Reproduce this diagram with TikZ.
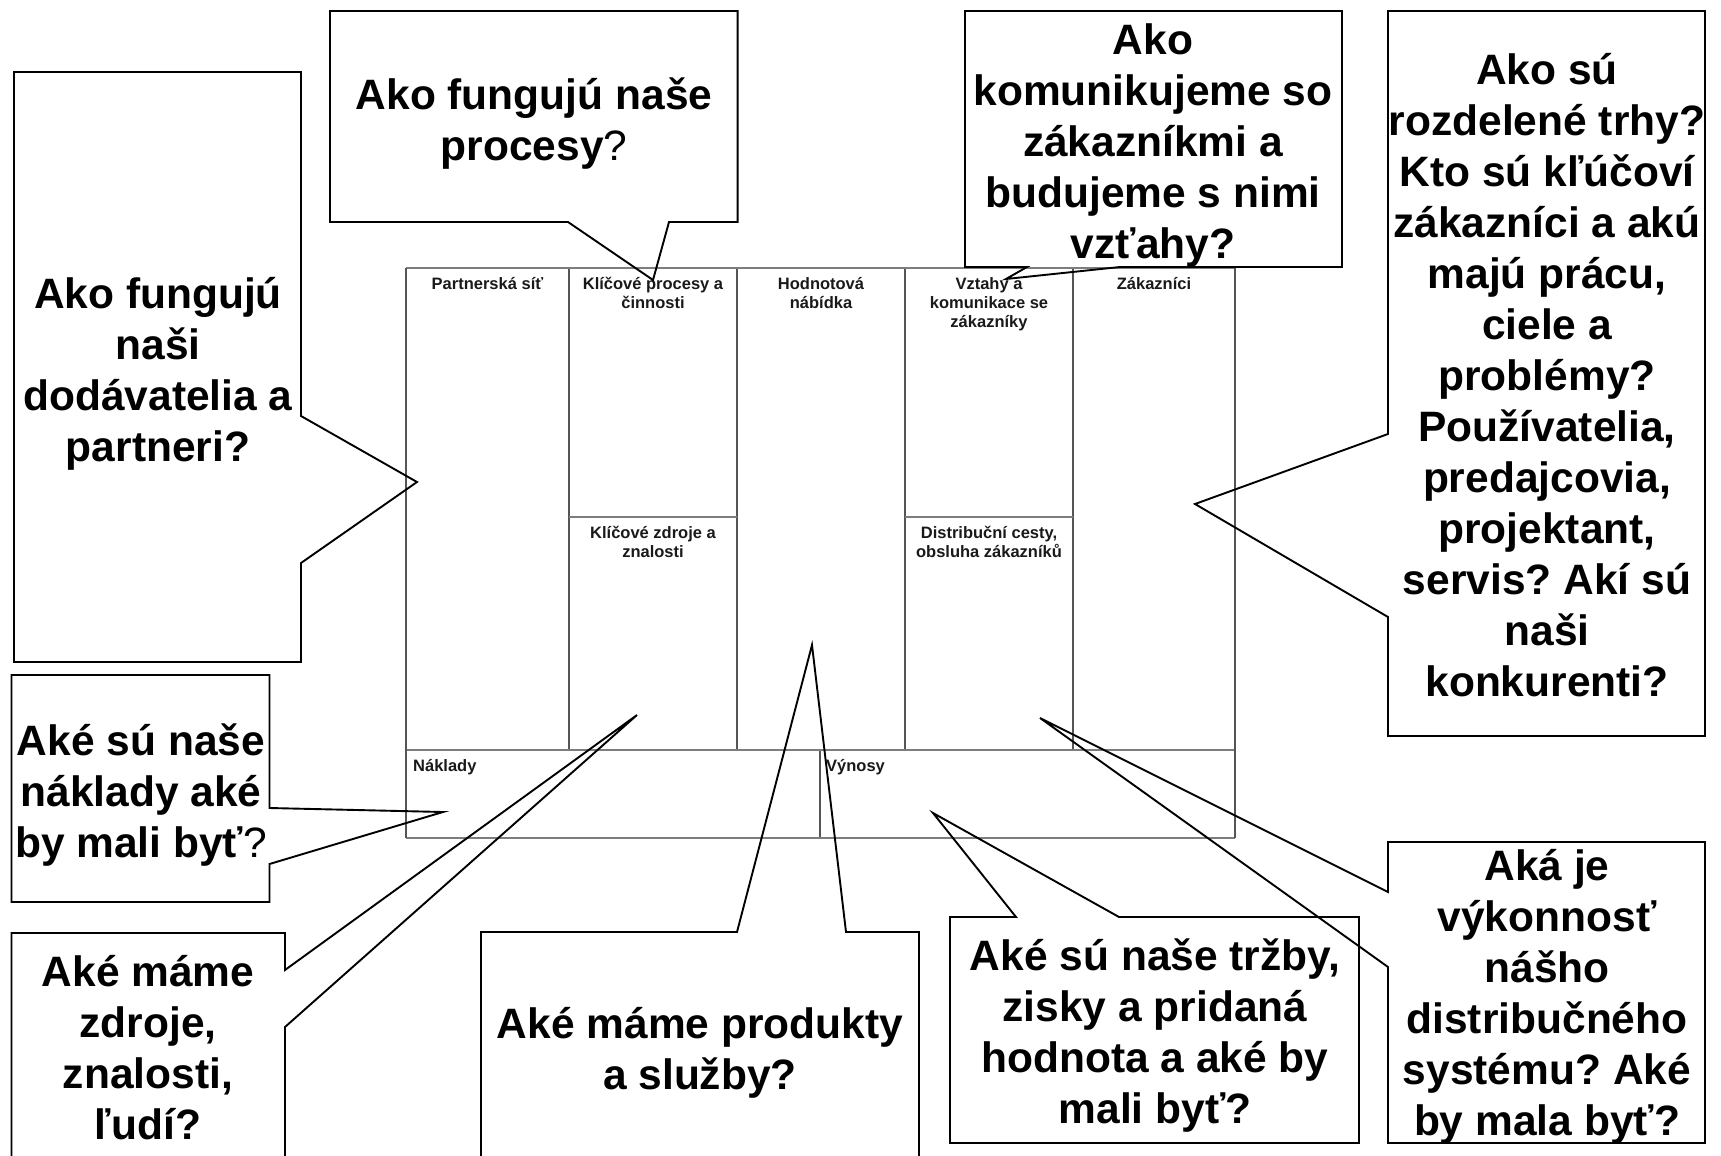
\documentclass[tikz,border=0pt]{standalone}
\usepackage{fontspec}
\setmainfont{Liberation Sans}
\frenchspacing
\definecolor{gridH}{RGB}{125,125,125}
\definecolor{gridV}{RGB}{85,85,85}
\tikzset{
  q/.style={font=\bfseries\fontsize{42.5}{51}\selectfont, align=center, inner sep=0pt},
  lab/.style={font=\bfseries\fontsize{16.5}{19}\selectfont, align=center, inner sep=0pt, anchor=north, text=black!90},
  labw/.style={font=\bfseries\fontsize{16.5}{19}\selectfont, inner sep=0pt, anchor=north west, text=black!90},
  gh/.style={draw=gridH, line width=2.2pt},
  gv/.style={draw=gridV, line width=1.3pt},
  callout/.style={draw=black, line width=1.9pt, line join=miter}
}
\begin{document}
\begin{tikzpicture}[x=1pt,y=-1pt]
\useasboundingbox (0,0) rectangle (1721,1156);
\clip (0,0) rectangle (1721,1156);
\fill[white] (0,0) rectangle (1721,1156);

% ---- canvas grid ----
\draw[gv] (569,268) -- (569,750);
\draw[gv] (737,268) -- (737,750);
\draw[gv] (905,268) -- (905,750);
\draw[gv] (1073,268) -- (1073,750);
\draw[gv] (820,750) -- (820,838);
\draw[gh] (569,517) -- (737,517);
\draw[gh] (905,517) -- (1073,517);
\draw[gh] (406,268) -- (1235,268);
\draw[gh] (406,750) -- (1235,750);
\draw[gh] (406,838) -- (1235,838);
\draw[gv] (406,268) -- (406,838);
\draw[gv] (1235,268) -- (1235,838);

% ---- canvas labels ----
\node[lab] (l1) at (487.5,277) {Partnerská síť};
\node[lab] (l2) at (653,277) {Klíčové procesy a\\činnosti};
\node[lab] (l3) at (821,277) {Hodnotová\\nábídka};
\node[lab] (l4) at (989,277) {Vztahy a\\komunikace se\\zákazníky};
\node[lab] (l5) at (1154,277) {Zákazníci};
\node[lab] (l6) at (653,526) {Klíčové zdroje a\\znalosti};
\node[lab] (l7) at (989,526) {Distribuční cesty,\\obsluha zákazníků};
\node[labw] (l8) at (413,759) {Náklady};
\node[labw] (l9) at (826,759) {Výnosy};

% ---- callouts ----
% processes
\draw[callout] (330,11) -- (737.6,11) -- (737.6,222) -- (669,222) -- (653,280) -- (568,222) -- (330,222) -- cycle;
% partners
\draw[callout] (14,72) -- (301,72) -- (301,416) -- (417,482) -- (301,563) -- (301,662) -- (14,662) -- cycle;
% communication
\draw[callout] (965,11) -- (1342,11) -- (1342,267) -- (1120,267) -- (1006,279) -- (1027,267) -- (965,267) -- cycle;
% customers
\draw[callout] (1388,11) -- (1705,11) -- (1705,736) -- (1388,736) -- (1388,617) -- (1195,504) -- (1388,434) -- cycle;
% costs
\draw[callout] (11.5,675) -- (269.5,675) -- (269.5,808) -- (443,812) -- (269.5,864) -- (269.5,902) -- (11.5,902) -- cycle;
% resources
\draw[callout] (11.5,933) -- (285,933) -- (285,970) -- (637,715) -- (285,1027) -- (285,1170) -- (11.5,1170) -- cycle;
% products
\draw[callout] (481,932) -- (737,932) -- (812,645) -- (846,932) -- (919,932) -- (919,1170) -- (481,1170) -- cycle;
% revenues
\draw[callout] (950,917) -- (1016,917) -- (933,813) -- (1119,917) -- (1359,917) -- (1359,1143) -- (950,1143) -- cycle;
% distribution
\draw[callout] (1388,842) -- (1705,842) -- (1705,1143) -- (1388,1143) -- (1388,967) -- (1040,718) -- (1388,892) -- cycle;

% ---- callout texts ----
\node[q] (q1) at (534,124) {Ako fungujú naše\\procesy{\mdseries ?}};
\node[q] (q2) at (158,374) {Ako fungujú\\naši\\dodávatelia a\\partneri?};
\node[q] (q3) at (1153,146) {Ako\\komunikujeme so\\zákazníkmi a\\budujeme s nimi\\vzťahy?};
\node[q] (q4) at (1547,375) {Ako sú\\rozdelené trhy?\\Kto sú kľúčoví\\zákazníci a akú\\majú prácu,\\ciele a\\problémy?\\Používatelia,\\predajcovia,\\projektant,\\servis? Akí sú\\naši\\konkurenti?};
\node[q] (q5) at (141,795) {Aké sú naše\\náklady aké\\by mali byť{\mdseries ?}};
\node[q] (q6) at (148,1048) {Aké máme\\zdroje,\\znalosti,\\ľudí?};
\node[q] (q7) at (700,1053) {Aké máme produkty\\a služby?};
\node[q] (q8) at (1155,1036) {Aké sú naše tržby,\\zisky a pridaná\\hodnota a aké by\\mali byť?};
\node[q] (q9) at (1547,997) {Aká je\\výkonnosť\\nášho\\distribučného\\systému? Aké\\by mala byť?};
\end{tikzpicture}
\end{document}
